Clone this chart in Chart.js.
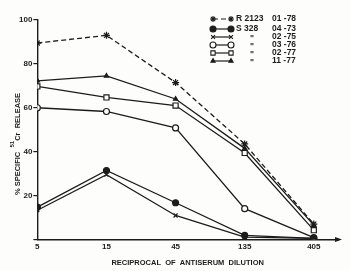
<!DOCTYPE html>
<html>
<head>
<meta charset="utf-8">
<script src="https://cdn.jsdelivr.net/npm/chart.js@4.4.0/dist/chart.umd.min.js"></script>
<style>
  html, body { margin: 0; padding: 0; background: #fdfdfb; }
  #wrap { width: 350px; height: 271px; }
</style>
</head>
<body>
<div id="wrap"><canvas id="c"></canvas></div>
<script>
// reciprocal of antiserum dilution (log3 spaced, plotted by index)
const dilutions = ['5', '15', '45', '135', '405'];
const sera = ['R 2123', 'S 328', '"', '"', '"', '"'];
const dates = ['01 -78', '04 -73', '02 -75', '03 -76', '02 -77', '11 -77'];

// % specific 51Cr release
const r2123_0178 = [89.5, 93, 71.5, 43.5, 7];
const s328_0473 = [14.7, 31.4, 16.7, 1.8, 0.5];
const s328_0275 = [13.3, 29.5, 10.9, 1, 0.5];
const s328_0376 = [60, 58.3, 50.8, 14, 0.8];
const s328_0277 = [69.7, 64.7, 61, 39.4, 4.2];
const s328_1177 = [72.3, 74.5, 64, 41.5, 6.5];

const yTicks = [20, 40, 60, 80, 100];

const INK = '#1c1c1c';
const FONT = '"Liberation Sans", Arial, sans-serif';

const pts = (arr) => arr.map((v, i) => ({ x: i, y: v }));

function series(data, style, radius, fill, dash) {
  return {
    data: pts(data),
    borderColor: INK,
    borderWidth: 1.3,
    borderDash: dash || [],
    pointStyle: style,
    pointRadius: radius,
    pointBorderWidth: 1.2,
    pointBorderColor: INK,
    pointBackgroundColor: fill,
    tension: 0
  };
}

const datasets = [
  series(r2123_0178, 'star', 3.5, INK, [5, 3]),
  series(s328_0473, 'circle', 3, INK),
  series(s328_0275, 'crossRot', 2.8, INK),
  series(s328_0376, 'circle', 3, '#fff'),
  series(s328_0277, 'rect', 3.6, '#fff'),
  series(s328_1177, 'triangle', 2.4, INK)
];

// legend block, y-axis title with superscript and axis arrow
const decorations = {
  id: 'decorations',
  afterDraw(chart) {
    const ctx = chart.ctx;
    const area = chart.chartArea;
    ctx.save();

    // arrow at end of x axis
    ctx.fillStyle = INK;
    ctx.beginPath();
    ctx.moveTo(area.right + 4, area.bottom);
    ctx.lineTo(area.right - 3, area.bottom - 2.5);
    ctx.lineTo(area.right - 3, area.bottom + 2.5);
    ctx.closePath();
    ctx.fill();

    // legend
    ctx.font = 'bold 8.5px ' + FONT;
    ctx.textBaseline = 'middle';
    ctx.textAlign = 'left';
    chart.data.datasets.forEach((ds, i) => {
      const y = i === 0 ? 19 : 29 + (i - 1) * 8;
      ctx.strokeStyle = INK;
      ctx.lineWidth = 1.2;
      ctx.setLineDash(ds.borderDash);
      ctx.beginPath();
      ctx.moveTo(213, y);
      ctx.lineTo(231, y);
      ctx.stroke();
      ctx.setLineDash([]);
      [213, 231].forEach((x) => {
        ctx.fillStyle = ds.pointBackgroundColor;
        ctx.strokeStyle = INK;
        ctx.lineWidth = 1.1;
        Chart.helpers.drawPoint(ctx, {
          pointStyle: ds.pointStyle,
          radius: Math.min(ds.pointRadius, 3),
          rotation: 0,
          borderWidth: 1.1
        }, x, y);
      });
      ctx.fillStyle = INK;
      const name = sera[i];
      if (name === '"') {
        ctx.fillText(name, 250, y + 2);
      } else {
        ctx.fillText(name, 236, y);
      }
      ctx.fillText(dates[i], 272, y);
    });

    // y-axis title: % SPECIFIC 51Cr RELEASE
    ctx.translate(18, 144);
    ctx.rotate(-Math.PI / 2);
    const main = 'bold 7.5px ' + FONT;
    const sup = 'bold 6px ' + FONT;
    const parts = [
      ['% SPECIFIC  ', main, 0],
      ['51', sup, -6],
      ['Cr  RELEASE', main, 0]
    ];
    let total = 0;
    parts.forEach((p) => { ctx.font = p[1]; total += ctx.measureText(p[0]).width; });
    let x = -total / 2;
    ctx.textAlign = 'left';
    ctx.textBaseline = 'middle';
    ctx.fillStyle = INK;
    parts.forEach((p) => {
      ctx.font = p[1];
      ctx.fillText(p[0], x, p[2]);
      x += ctx.measureText(p[0]).width;
    });
    ctx.restore();
  }
};

new Chart(document.getElementById('c'), {
  type: 'line',
  data: { datasets },
  plugins: [decorations],
  options: {
    responsive: true,
    maintainAspectRatio: false,
    animation: false,
    layout: { padding: { left: 18, right: 12, top: 20, bottom: 3 } },
    plugins: {
      legend: { display: false },
      tooltip: { enabled: false }
    },
    scales: {
      x: {
        type: 'linear',
        min: 0,
        max: 4.35,
        afterBuildTicks: (axis) => {
          axis.ticks = dilutions.map((_, i) => ({ value: i }));
        },
        grid: { display: false, drawTicks: false },
        border: { display: true, color: INK, width: 1.4 },
        ticks: {
          color: INK,
          padding: 3,
          maxRotation: 0,
          autoSkip: false,
          font: { family: FONT, size: 8, weight: 'bold' },
          callback: (v) => dilutions[v] ?? ''
        },
        title: {
          display: true,
          text: 'RECIPROCAL  OF  ANTISERUM  DILUTION',
          color: INK,
          padding: { top: 3, bottom: 1 },
          font: { family: FONT, size: 7.5, weight: 'bold' }
        }
      },
      y: {
        min: 0,
        max: 100,
        afterBuildTicks: (axis) => {
          axis.ticks = [0, ...yTicks].map((v) => ({ value: v }));
        },
        grid: { display: true, drawOnChartArea: false, drawTicks: true, tickLength: 4, color: INK, lineWidth: 1.2 },
        border: { display: true, color: INK, width: 1.4 },
        ticks: {
          color: INK,
          padding: 1,
          font: { family: FONT, size: 8, weight: 'bold' },
          callback: (v) => (yTicks.includes(v) ? String(v) : '')
        }
      }
    }
  }
});
</script>
</body>
</html>
